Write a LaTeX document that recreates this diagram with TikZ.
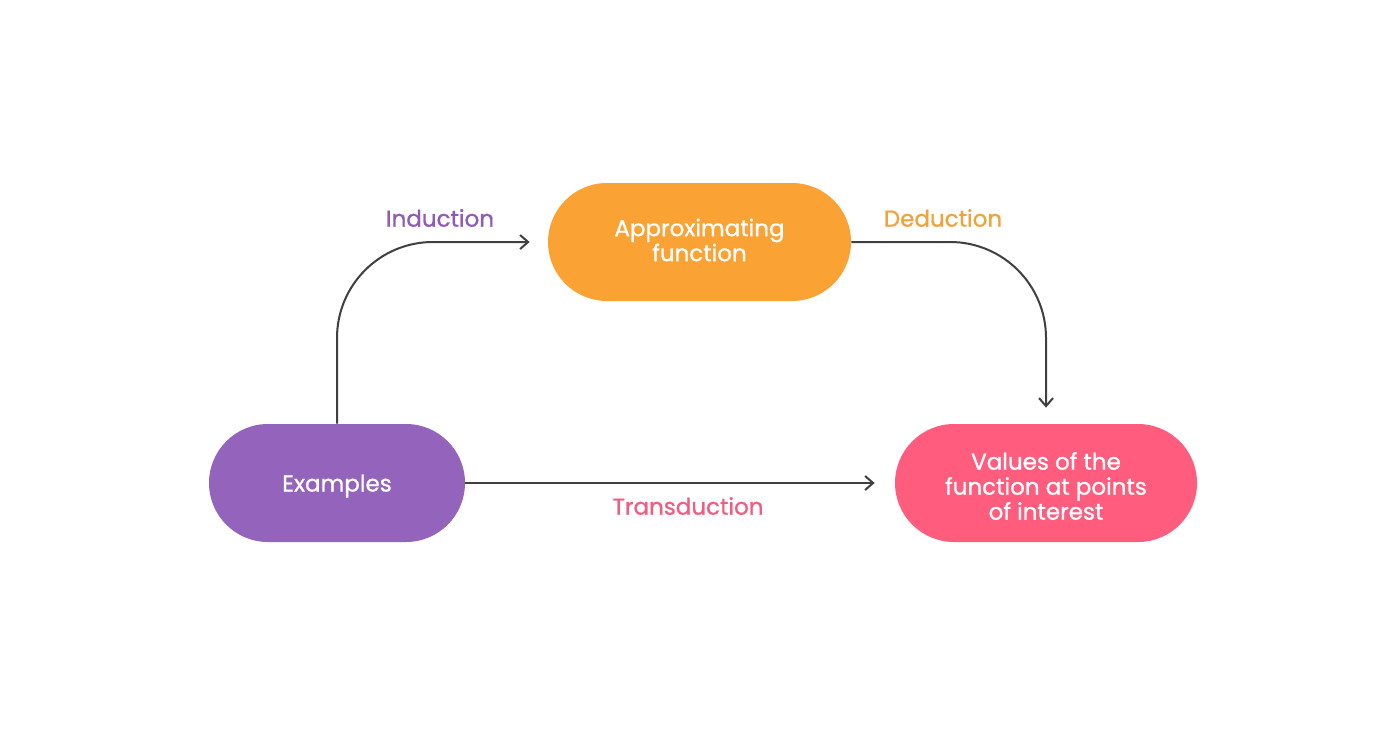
\documentclass[tikz,border=0pt]{standalone}
\usepackage{fontspec}
\setmainfont{Poppins}[FakeBold=0.9]
\usetikzlibrary{arrows.meta}
\definecolor{cpurple}{HTML}{9463BB}
\definecolor{corange}{HTML}{FBA234}
\definecolor{cpink}{HTML}{FF5C7E}
\definecolor{lpurple}{HTML}{8E5CB6}
\definecolor{lorange}{HTML}{F0A23C}
\definecolor{lpink}{HTML}{EE5E82}
\definecolor{cline}{HTML}{404040}
\begin{document}
\begin{tikzpicture}[x=0.5pt,y=-0.5pt,
  pilltext/.style={text=white, align=center, inner sep=0pt,
    font=\fontsize{11.5}{12.5}\selectfont},
  pill/.style 2 args={rectangle, rounded corners=29.5pt, minimum height=59pt,
    label={[pilltext,yshift=#2]center:#1}},
  lbl/.style={font=\fontsize{11.5}{12.5}\selectfont, inner sep=0pt},
  conn/.style={draw=cline, line width=1pt, rounded corners=48pt,
    -{Straight Barb[length=4pt,width=7pt,line width=1pt]}}]
\useasboundingbox[fill=white] (0,0) rectangle (1400,733);
\node[pill={Examples}{-1.5pt}, fill=cpurple, minimum width=128pt] (ex) at (337,483) {};
\node[pill={Approximating\\function}{1pt}, fill=corange, minimum width=151.5pt] (ap) at (699.5,242) {};
\node[pill={Values of the\\function at points\\of interest}{-1.5pt}, fill=cpink, minimum width=151pt] (va) at (1046,483) {};
\draw[conn, shorten >=9pt] (ex.north) |- (ap.west);
\draw[conn, shorten >=8pt] (ap.east) -| (va.north);
\draw[conn, shorten >=10pt] (ex.east) -- (va.west);
\node[lbl, text=lpurple] (lind) at (440,218) {Induction};
\node[lbl, text=lorange] (lded) at (943,218) {Deduction};
\node[lbl, text=lpink] (ltra) at (688,506) {Transduction};
\end{tikzpicture}
\end{document}
